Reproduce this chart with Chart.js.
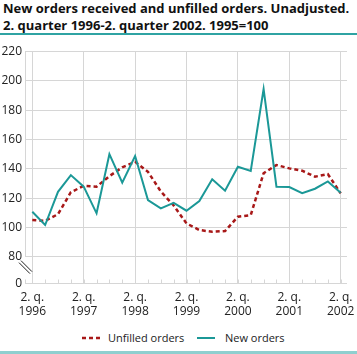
<!DOCTYPE html>
<html><head><meta charset="utf-8">
<script src="https://cdn.jsdelivr.net/npm/chart.js@4"></script>
<style>
html,body{margin:0;padding:0;background:#fff;}
body{width:357px;height:354px;position:relative;overflow:hidden;font-family:"Open Sans",sans-serif;color:#111;}
#title{position:absolute;left:3px;top:0px;font-weight:bold;font-size:13px;line-height:17px;white-space:nowrap;}
#rule1{position:absolute;left:0;top:33px;width:357px;height:2px;background:#2fa3a3;}
#rule2{position:absolute;left:0;top:351px;width:357px;height:3px;background:#8fcfcf;}
#wrap{position:absolute;left:0;top:36px;width:357px;height:290px;}
.lg{position:absolute;top:330px;height:16px;line-height:16px;font-size:11px;color:#222;white-space:nowrap;}
.lg svg{position:absolute;top:6px;left:0;}
</style></head>
<body>
<div id="title">New orders received and unfilled orders. Unadjusted.<br>2. quarter 1996-2. quarter 2002. 1995=100</div>
<div id="rule1"></div>
<div id="wrap"><canvas id="c" width="357" height="290"></canvas></div>
<div class="lg" style="left:82px;padding-left:26px;"><svg width="18" height="4"><line x1="0" y1="2" x2="18" y2="2" stroke="#a81818" stroke-width="2.5" stroke-dasharray="4,3"/></svg>Unfilled orders</div>
<div class="lg" style="left:197px;padding-left:28px;"><svg width="18" height="4"><line x1="0" y1="2" x2="18" y2="2" stroke="#1b9897" stroke-width="2"/></svg>New orders</div>
<div id="rule2"></div>
<script>
const quarters = ['2. q. 1996','3. q. 1996','4. q. 1996','1. q. 1997','2. q. 1997','3. q. 1997','4. q. 1997','1. q. 1998','2. q. 1998','3. q. 1998','4. q. 1998','1. q. 1999','2. q. 1999','3. q. 1999','4. q. 1999','1. q. 2000','2. q. 2000','3. q. 2000','4. q. 2000','1. q. 2001','2. q. 2001','3. q. 2001','4. q. 2001','1. q. 2002','2. q. 2002'];
const unfilledOrders = [105,104.5,109,124,128.4,127.8,135,141,144.8,138,124.5,115,102.7,98.2,97,97.5,107.3,108.4,137,142.6,140.3,138.7,134.6,136.4,123.2];
const newOrders = [110.7,101.6,124.3,135.7,127.8,109.6,150,130.5,148.7,118.7,113,116.8,111.4,118,132.8,125,141.4,138.5,194.5,127.8,127.5,123.4,126.4,131.4,123.7];
const xTickLabels = [['2. q.','1996'],['2. q.','1997'],['2. q.','1998'],['2. q.','1999'],['2. q.','2000'],['2. q.','2001'],['2. q.','2002']];
const yTickValues = [80,100,120,140,160,180,200,220];
const yBreakBottom = 61.8; // axis break: bottom of the plot stands for 0
const zeroTick = 61.85;

const toXY = arr => arr.map((v,i)=>({x:i,y:v}));
const gridColor = '#d6d6d6';

const extras = {
  id:'extras',
  afterDraw(chart){
    const {ctx, chartArea:a, scales:{x,y}} = chart;
    ctx.save();
    ctx.strokeStyle = gridColor; ctx.lineWidth = 1;
    ctx.beginPath(); ctx.moveTo(a.left+0.5, a.top); ctx.lineTo(a.left+0.5, y.getPixelForValue(80)); ctx.stroke();
    const yb = Math.round(a.bottom)+0.5;
    ctx.beginPath(); ctx.moveTo(a.left, yb); ctx.lineTo(a.right, yb); ctx.stroke();
    for(let i=0;i<quarters.length;i++){
      const px = Math.round(x.getPixelForValue(i))+0.5;
      ctx.beginPath(); ctx.moveTo(px, yb); ctx.lineTo(px, yb-4); ctx.stroke();
    }
    ctx.beginPath(); ctx.moveTo(a.left+0.5, yb); ctx.lineTo(a.left+0.5, yb-4); ctx.stroke();
    ctx.strokeStyle = '#222'; ctx.lineWidth = 1;
    const y80 = y.getPixelForValue(80);
    ctx.beginPath();
    ctx.moveTo(a.left-4, y80+4); ctx.lineTo(a.left+7, y80+15);
    ctx.moveTo(a.left-6, y80+6); ctx.lineTo(a.left+5, y80+17);
    ctx.stroke();
    ctx.restore();
  }
};

new Chart(document.getElementById('c'), {
  type:'line',
  data:{
    datasets:[
      {label:'New orders', data:toXY(newOrders), borderColor:'#1b9897', borderWidth:2, pointRadius:0, tension:0, fill:false},
      {label:'Unfilled orders', data:toXY(unfilledOrders), borderColor:'#a81818', borderWidth:2.5, borderDash:[4,3], pointRadius:0, tension:0, fill:false}
    ]
  },
  options:{
    responsive:false, animation:false, events:[],
    layout:{padding:{top:15.7,left:0,right:10,bottom:2.7}},
    plugins:{legend:{display:false}, tooltip:{enabled:false}},
    scales:{
      x:{type:'linear', min:-0.568, max:24.49,
        afterBuildTicks(s){ s.ticks = [0,4,8,12,16,20,24].map(v=>({value:v})); },
        afterFit(s){ s.height = 40; s.paddingLeft = 0; s.paddingRight = 0; },
        ticks:{autoSkip:false, maxRotation:0, padding:7, color:'#222', font:{family:'Open Sans', size:12}, callback:(v)=> xTickLabels[Math.round(v/4)]},
        grid:{color:gridColor, drawTicks:false}, border:{display:false}
      },
      y:{type:'linear', min:yBreakBottom, max:220,
        afterBuildTicks(s){ s.ticks = [zeroTick].concat(yTickValues).map(v=>({value:v})); },
        afterFit(s){ s.width = 25; },
        ticks:{autoSkip:false, padding:3, color:'#222', font:{family:'Open Sans', size:12},
          callback:(v)=> v < 70 ? '0' : String(v)},
        grid:{color:(c)=> (c.tick && c.tick.value < 70) ? 'rgba(0,0,0,0)' : gridColor, drawTicks:false}, border:{display:false}
      }
    }
  },
  plugins:[extras]
});
</script>
</body></html>
